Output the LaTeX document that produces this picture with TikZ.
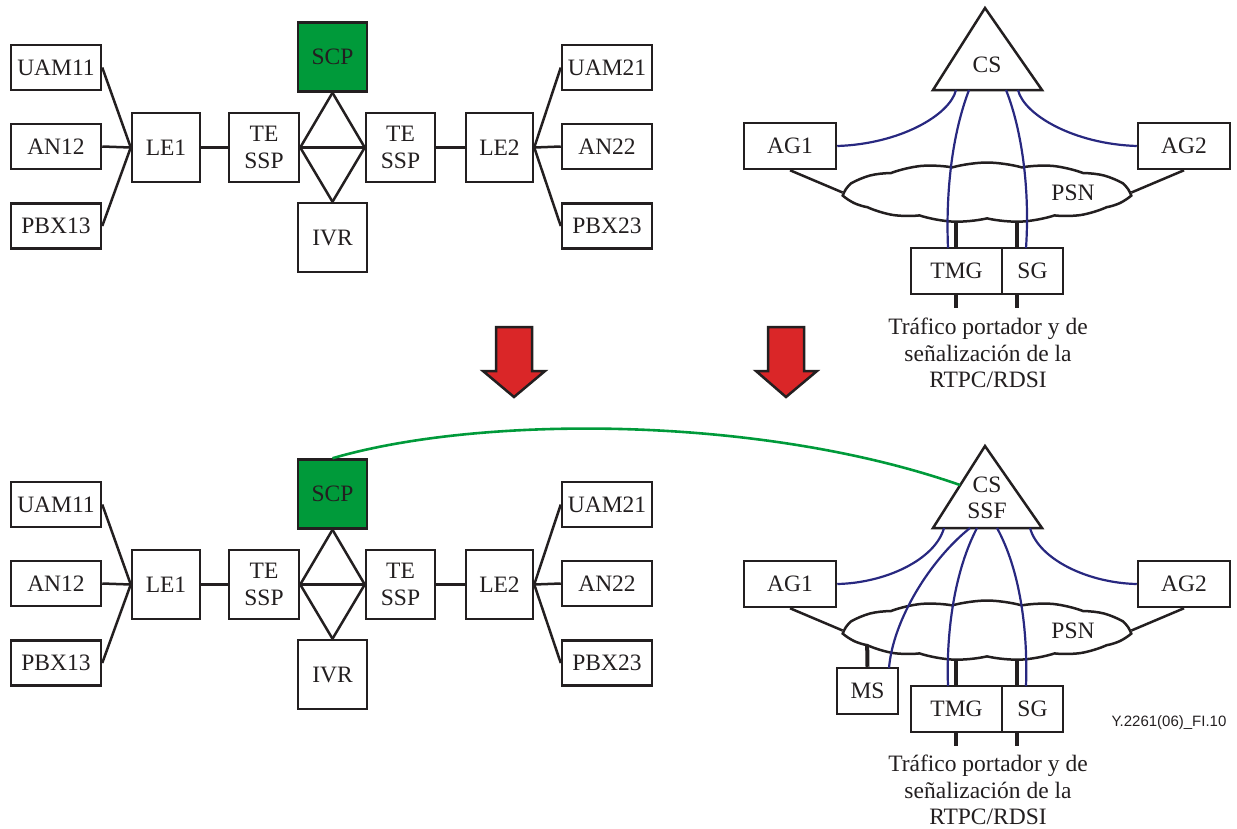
\documentclass[tikz,border=0pt]{standalone}
\usepackage{fontspec}
\setmainfont{Liberation Serif}
\newfontfamily\labelsans{Liberation Sans}
\usetikzlibrary{shapes.symbols}

\definecolor{scpgreen}{RGB}{0,154,58}
\definecolor{linkblue}{RGB}{40,40,128}
\definecolor{arrowred}{RGB}{218,38,40}
\definecolor{ink}{RGB}{35,31,32}

\begin{document}
\begin{tikzpicture}[x=1pt,y=-1pt,
  every node/.style={font=\fontsize{23.5}{26.5}\selectfont, text=ink},
  box/.style={draw=ink, line width=2.5pt, fill=white, inner sep=0pt, align=center},
  wide/.style={box, minimum width=90pt, minimum height=45pt},
  sq/.style={box, minimum width=69pt, minimum height=69pt},
  gw/.style={box, minimum width=92pt, minimum height=46pt},
  link/.style={draw=ink, line width=2.5pt},
  trunk/.style={draw=ink, line width=4pt},
  ctrl/.style={draw=linkblue, line width=2.2pt},
  intel/.style={draw=scpgreen, line width=2.6pt},
  psn/.style={cloud, cloud puffs=13, cloud puff arc=32, cloud ignores aspect,
    draw=ink, line width=2.5pt, fill=white, minimum width=284pt,
    minimum height=60pt, inner sep=0pt},
  bigarrow/.style={draw=ink, line width=2.5pt, fill=arrowred, line join=miter}
]
\useasboundingbox (0,0) rectangle (1237,828);

% ---- PSTN/ISDN side: local exchanges, transit SSPs, SCP and IVR ----
\foreach \o/\p in {0/t,437/b}{
  \begin{scope}[shift={(0,\o)}]
    \node[wide] (\p-UAM11) at (56,67.5) {UAM11};
    \node[wide] (\p-AN12)  at (56,146.5) {AN12};
    \node[wide] (\p-PBX13) at (56,226) {PBX13};
    \node[box, minimum width=68pt, minimum height=69pt] (\p-LE1) at (166,147.5) {LE1};
    \node[box, minimum width=70pt, minimum height=69pt] (\p-TEL) at (264,147.5) {TE\\SSP};
    \node[sq, fill=scpgreen] (\p-SCP) at (332.5,57) {SCP};
    \node[sq] (\p-IVR) at (332.5,237.5) {IVR};
    \node[sq] (\p-TER) at (400.5,147.5) {TE\\SSP};
    \node[box, minimum width=67pt, minimum height=69pt] (\p-LE2) at (499.5,147.5) {LE2};
    \node[wide] (\p-UAM21) at (607,67.5) {UAM21};
    \node[wide] (\p-AN22)  at (607,146.5) {AN22};
    \node[wide] (\p-PBX23) at (607,226) {PBX23};
  \end{scope}
  \draw[link] (\p-UAM11.east) -- (\p-LE1.west);
  \draw[link] (\p-AN12.east) -- (\p-LE1.west);
  \draw[link] (\p-PBX13.east) -- (\p-LE1.west);
  \draw[link] (\p-LE1.east) -- (\p-TEL.west);
  \draw[link] (\p-TEL.east) -- (\p-TER.west);
  \draw[link] (\p-SCP.south) -- (\p-TEL.east);
  \draw[link] (\p-SCP.south) -- (\p-TER.west);
  \draw[link] (\p-IVR.north) -- (\p-TEL.east);
  \draw[link] (\p-IVR.north) -- (\p-TER.west);
  \draw[link] (\p-TER.east) -- (\p-LE2.west);
  \draw[link] (\p-LE2.east) -- (\p-UAM21.west);
  \draw[link] (\p-LE2.east) -- (\p-AN22.west);
  \draw[link] (\p-LE2.east) -- (\p-PBX23.west);
}

% ---- packet side: call server, gateways and the packet network ----
\foreach \o/\p in {0/t,438/b}{
  \begin{scope}[shift={(0,\o)}]
    \coordinate (\p-tmgin)  at (956,205);
    \coordinate (\p-tmgout) at (956,308);
    \coordinate (\p-sgin)   at (1017,205);
    \coordinate (\p-sgout)  at (1017,308);
    \coordinate (\p-apex)   at (985,8);
    \coordinate (\p-baseR)  at (1042,90);
    \coordinate (\p-baseL)  at (933,90);
  \end{scope}
  \draw[trunk] (\p-tmgin) -- (\p-tmgout);
  \draw[trunk] (\p-sgin) -- (\p-sgout);
  \begin{scope}[shift={(0,\o)}]
    \node[gw] (\p-AG1) at (790,146) {AG1};
    \node[gw] (\p-AG2) at (1184,146) {AG2};
    \node[box, minimum width=91pt, minimum height=46pt] (\p-TMG) at (956.5,271) {TMG};
    \node[box, minimum width=61pt, minimum height=46pt] (\p-SG) at (1032.5,271) {SG};
  \end{scope}
  \draw[link, fill=white] (\p-apex) -- (\p-baseR) -- (\p-baseL) -- cycle;
}

% trunk to the media server (its top end is hidden by the cloud)
\coordinate (b-msin) at (867,635);
\node[box, minimum width=61pt, minimum height=46pt] (b-MS) at (867.5,691) {MS};
\draw[trunk] (b-msin) -- (b-MS.north);

\foreach \o/\p in {0/t,438/b}{
  \begin{scope}[shift={(0,\o)}]
    \node[psn] (\p-PSN) at (987,192.5) {};
    \node (\p-PSNl) at (1073,193) {PSN};
  \end{scope}
  \draw[link] (\p-AG1.south) -- (\p-PSN.west);
  \draw[link] (\p-AG2.south) -- (\p-PSN.east);
}

\node (t-CS) at (987,65) {CS};
\node[align=center] (b-CS) at (987,498) {CS\\SSF};

\node[align=center] (t-traffic) at (988,353)
  {Tráfico portador y de\\señalización de la\\RTPC/RDSI};
\node[align=center] (b-traffic) at (988,790)
  {Tráfico portador y de\\señalización de la\\RTPC/RDSI};

% ---- control links from the call server (top) ----
\coordinate (t-c1) at (956,90);
\coordinate (t-c2) at (969,90);
\coordinate (t-c3) at (1006,90);
\coordinate (t-c4) at (1018,90);
\coordinate (t-tmgc) at (948,248);
\coordinate (t-sgc) at (1026,248);
\draw[ctrl] (t-AG1.east) .. controls (900,144) and (950,115) .. (t-c1);
\draw[ctrl] (t-c2) .. controls (950,140) and (946,200) .. (t-tmgc);
\draw[ctrl] (t-c3) .. controls (1022,130) and (1030,190) .. (t-sgc);
\draw[ctrl] (t-AG2.west) .. controls (1074,144) and (1024,115) .. (t-c4);

% ---- control links from the call server with SSF (bottom) ----
\coordinate (b-c1) at (944,528);
\coordinate (b-c2) at (970,528);
\coordinate (b-c3) at (977,528);
\coordinate (b-c4) at (997,528);
\coordinate (b-c5) at (1030,528);
\coordinate (b-msc) at (889,668);
\coordinate (b-tmgc) at (948,686);
\coordinate (b-sgc) at (1026,686);
\draw[ctrl] (b-AG1.east) .. controls (885,583) and (935,560) .. (b-c1);
\draw[ctrl] (b-c2) .. controls (930,560) and (893,620) .. (b-msc);
\draw[ctrl] (b-c3) .. controls (955,570) and (946,630) .. (b-tmgc);
\draw[ctrl] (b-c4) .. controls (1020,570) and (1028,630) .. (b-sgc);
\draw[ctrl] (b-AG2.west) .. controls (1089,583) and (1039,560) .. (b-c5);

% ---- INAP link from the SCP to the call server SSF ----
\coordinate (b-ssfedge) at (960,485);
\draw[intel] (b-SCP.north) .. controls (480,415) and (760,415) .. (b-ssfedge);

% ---- migration arrows ----
\draw[bigarrow] (496,327) -- (532,327) -- (532,371) -- (545,371) -- (514,397)
  -- (483,371) -- (496,371) -- cycle;
\draw[bigarrow] (768,327) -- (804,327) -- (804,371) -- (817,371) -- (786,397)
  -- (756,371) -- (768,371) -- cycle;

\node[font=\labelsans\fontsize{15}{17}\selectfont] (figid) at (1169,723) {Y.2261(06)\_FI.10};
\end{tikzpicture}
\end{document}
